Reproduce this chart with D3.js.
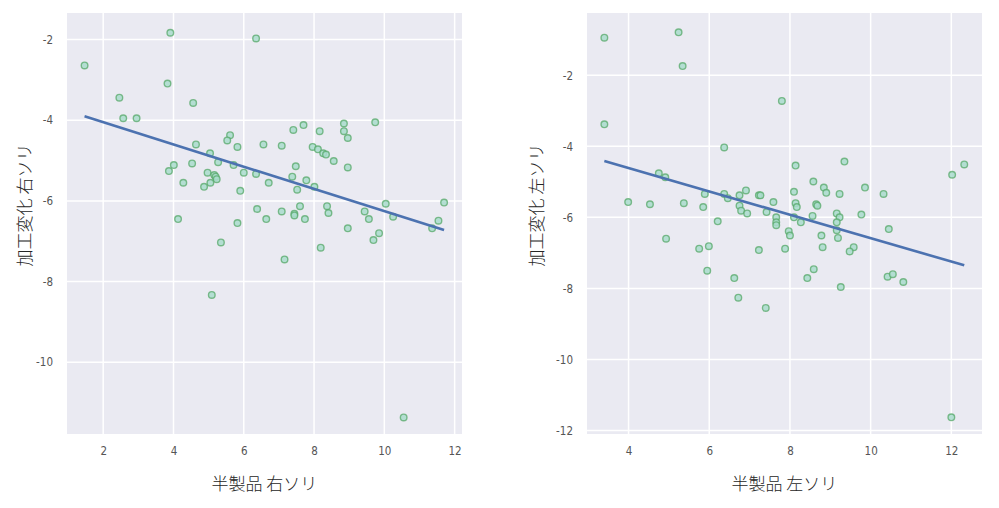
<!DOCTYPE html>
<html>
<head>
<meta charset="utf-8">
<script src="https://cdn.jsdelivr.net/npm/d3@7"></script>
<style>
  html, body { margin: 0; padding: 0; background: #ffffff; }
  svg { display: block; }
</style>
</head>
<body>
<svg id="chart" width="999" height="508"></svg>
<script>
// ---- Data ----
const leftX = [1.47, 3.91, 6.35, 3.83, 2.46, 4.56, 2.57, 2.95, 8.85, 9.74,
  7.70, 7.41, 8.16, 8.85, 8.96, 5.61, 5.53, 4.64, 5.82, 6.56,
  7.08, 7.96, 8.11, 8.26, 8.34, 5.04, 8.56, 5.27, 4.01, 4.53,
  5.71, 7.48, 8.96, 3.87, 4.97, 5.16, 5.20, 5.23, 6.00, 6.35,
  7.38, 7.78, 4.28, 5.05, 4.87, 6.71, 7.52, 8.01, 5.90, 10.04,
  11.70, 6.38, 8.37, 7.60, 7.08, 7.44, 7.44, 8.41, 9.44, 10.25,
  4.13, 6.64, 7.74, 9.56, 5.82, 8.96, 11.54, 11.36, 9.85, 9.69,
  5.35, 7.16, 8.19, 5.09, 10.55];
const leftY = [-2.64, -1.83, -1.97, -3.09, -3.44, -3.57, -3.95, -3.95, -4.08, -4.05,
  -4.12, -4.24, -4.27, -4.27, -4.44, -4.37, -4.50, -4.60, -4.66, -4.60,
  -4.63, -4.66, -4.72, -4.82, -4.85, -4.82, -5.01, -5.04, -5.11, -5.07,
  -5.11, -5.14, -5.17, -5.26, -5.30, -5.36, -5.40, -5.46, -5.30, -5.33,
  -5.40, -5.49, -5.55, -5.55, -5.65, -5.55, -5.72, -5.65, -5.75, -6.07,
  -6.04, -6.20, -6.13, -6.13, -6.26, -6.32, -6.36, -6.30, -6.26, -6.39,
  -6.45, -6.45, -6.45, -6.45, -6.55, -6.68, -6.49, -6.68, -6.80, -6.97,
  -7.03, -7.45, -7.16, -8.33, -11.37];

const rightX = [3.40, 5.24, 5.34, 7.80, 3.40, 6.37, 8.14, 9.35, 12.32, 12.02,
  4.75, 4.91, 8.58, 8.84, 8.90, 9.86, 8.10, 9.23, 10.32, 5.89,
  6.37, 6.46, 6.91, 6.75, 7.23, 7.27, 7.59, 8.14, 8.17, 8.65,
  8.68, 3.99, 4.53, 5.37, 5.85, 6.75, 6.79, 6.94, 7.42, 7.66,
  7.66, 7.66, 8.10, 8.27, 8.56, 9.16, 9.23, 9.16, 9.77, 6.21,
  7.97, 8.00, 8.78, 9.16, 9.19, 10.45, 4.93, 5.75, 5.99, 7.23,
  7.88, 8.81, 9.58, 9.48, 5.95, 6.62, 8.43, 8.59, 10.42, 10.55,
  10.81, 9.26, 6.72, 7.40, 12.00];
const rightY = [-0.94, -0.79, -1.74, -2.72, -3.38, -4.03, -4.54, -4.43, -4.51, -4.80,
  -4.76, -4.87, -4.99, -5.16, -5.31, -5.16, -5.28, -5.34, -5.34, -5.34,
  -5.34, -5.46, -5.24, -5.38, -5.38, -5.38, -5.57, -5.60, -5.71, -5.63,
  -5.67, -5.57, -5.63, -5.60, -5.71, -5.67, -5.81, -5.89, -5.85, -6.00,
  -6.14, -6.22, -6.00, -6.14, -5.96, -5.89, -6.00, -6.14, -5.92, -6.11,
  -6.39, -6.51, -6.51, -6.36, -6.58, -6.33, -6.60, -6.88, -6.81, -6.92,
  -6.88, -6.84, -6.84, -6.96, -7.50, -7.71, -7.71, -7.46, -7.67, -7.60,
  -7.82, -7.96, -8.26, -8.55, -11.63];

const leftXTicks = [2, 4, 6, 8, 10, 12];
const leftYTicks = [-2, -4, -6, -8, -10];
const rightXTicks = [4, 6, 8, 10, 12];
const rightYTicks = [-2, -4, -6, -8, -10, -12];

const panels = [
  { xs: leftX, ys: leftY, xTicks: leftXTicks, yTicks: leftYTicks,
    xDomain: [0.97, 12.21], yDomain: [-11.78, -1.34],
    left: 67, right: 462, xLabel: "半製品 右ソリ", yLabel: "加工変化 右ソリ", yLabelX: 31 },
  { xs: rightX, ys: rightY, xTicks: rightXTicks, yTicks: rightYTicks,
    xDomain: [2.97, 12.76], yDomain: [-12.1, -0.245],
    left: 587, right: 982, xLabel: "半製品 左ソリ", yLabel: "加工変化 左ソリ", yLabelX: 543 }
];

const plotTop = 13, plotBottom = 434;
const svg = d3.select("#chart");

function fit(xs, ys) {
  const n = xs.length;
  const mx = d3.mean(xs), my = d3.mean(ys);
  let sxy = 0, sxx = 0;
  for (let i = 0; i < n; i++) { sxy += (xs[i] - mx) * (ys[i] - my); sxx += (xs[i] - mx) ** 2; }
  const b = sxy / sxx;
  return { a: my - b * mx, b };
}

panels.forEach(p => {
  const x = d3.scaleLinear().domain(p.xDomain).range([p.left, p.right]);
  const y = d3.scaleLinear().domain(p.yDomain).range([plotBottom, plotTop]);
  const g = svg.append("g");

  g.append("rect").attr("x", p.left).attr("y", plotTop)
    .attr("width", p.right - p.left).attr("height", plotBottom - plotTop)
    .attr("fill", "#eaeaf2");

  // grid
  g.append("g").selectAll("line").data(p.xTicks).join("line")
    .attr("x1", d => x(d)).attr("x2", d => x(d))
    .attr("y1", plotTop).attr("y2", plotBottom)
    .attr("stroke", "#ffffff").attr("stroke-width", 1.5);
  g.append("g").selectAll("line").data(p.yTicks).join("line")
    .attr("y1", d => y(d)).attr("y2", d => y(d))
    .attr("x1", p.left).attr("x2", p.right)
    .attr("stroke", "#ffffff").attr("stroke-width", 1.5);

  // axes (tick labels only)
  const xAxis = d3.axisBottom(x).tickValues(p.xTicks).tickSize(0).tickPadding(13)
    .tickFormat(d3.format("d"));
  const ax = g.append("g").attr("transform", `translate(0,${plotBottom})`).call(xAxis);
  const yAxis = d3.axisLeft(y).tickValues(p.yTicks).tickSize(0).tickPadding(14)
    .tickFormat(d => d3.format("d")(d).replace("−", "-"));
  const ay = g.append("g").attr("transform", `translate(${p.left},0)`).call(yAxis);
  [ax, ay].forEach(a => {
    a.select(".domain").remove();
    a.selectAll("text").attr("fill", "#555555")
      .style("font-family", "'DejaVu Sans Condensed', 'DejaVu Sans', sans-serif")
      .style("font-size", "11.5px");
  });

  // points
  const pts = p.xs.map((v, i) => [v, p.ys[i]]);
  g.append("g").selectAll("circle").data(pts).join("circle")
    .attr("cx", d => x(d[0])).attr("cy", d => y(d[1])).attr("r", 3.3)
    .attr("fill", "#a9dccd").attr("fill-opacity", 0.85)
    .attr("stroke", "#55a868").attr("stroke-opacity", 0.75).attr("stroke-width", 1.4);

  // regression line
  const f = fit(p.xs, p.ys);
  const ext = d3.extent(p.xs);
  const linePts = ext.map(v => [v, f.a + f.b * v]);
  g.append("path").datum(linePts)
    .attr("d", d3.line().x(d => x(d[0])).y(d => y(d[1])))
    .attr("stroke", "#4c72b0").attr("stroke-width", 2.6).attr("fill", "none");

  // labels
  const cjk = "'Noto Sans CJK JP', 'Noto Sans CJK SC', sans-serif";
  g.append("text").attr("x", (p.left + p.right) / 2).attr("y", 490)
    .attr("text-anchor", "middle").attr("fill", "#262626")
    .style("font-family", cjk).style("font-size", "17px").style("font-weight", 300).text(p.xLabel);
  g.append("text").attr("transform", `translate(${p.yLabelX},205) rotate(-90)`)
    .attr("text-anchor", "middle").attr("fill", "#262626")
    .style("font-family", cjk).style("font-size", "17px").style("font-weight", 300).text(p.yLabel);
});
</script>
</body>
</html>
